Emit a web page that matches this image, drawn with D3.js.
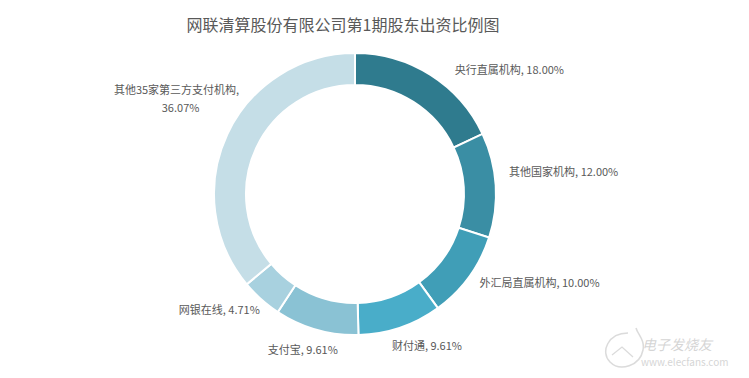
<!DOCTYPE html>
<html>
<head>
<meta charset="utf-8">
<script src="https://cdn.jsdelivr.net/npm/d3@7"></script>
<style>
  body { margin: 0; background: #fff; }
  text { font-family: "Noto Sans CJK SC", "Noto Sans", sans-serif; }
</style>
</head>
<body>
<div id="chart"></div>
<script>
// shareholders and their share of the capital (%)
var names = ["央行直属机构", "其他国家机构", "外汇局直属机构", "财付通", "支付宝", "网银在线", "其他35家第三方支付机构"];
var shares = [18.00, 12.00, 10.00, 9.61, 9.61, 4.71, 36.07];
var colors = ["#2f7b8e", "#3a8ea4", "#409eb7", "#49adc9", "#8ac2d4", "#a8d1df", "#c5dee7"];

var width = 749, height = 378;
var cx = 355, cy = 194, outerR = 141, innerR = 109;

// label nudges from the slice centroid (px), labels were hand placed
var labelNudge = [[66, 15], [44, -11], [51, -8], [19, -4], [-7, -3], [-26, -7], [-27, -25]];

var svg = d3.select("#chart").append("svg")
    .attr("width", width)
    .attr("height", height);

svg.append("text")
    .attr("x", 343)
    .attr("y", 31)
    .attr("text-anchor", "middle")
    .attr("font-size", "16px")
    .attr("fill", "#595959")
    .text("网联清算股份有限公司第1期股东出资比例图");

var data = names.map(function(n, i) { return {name: n, value: shares[i], color: colors[i], i: i}; });

var pie = d3.pie().sort(null).value(function(d) { return d.value; });
var arc = d3.arc().innerRadius(innerR).outerRadius(outerR);
var labelArc = d3.arc().innerRadius(165).outerRadius(165);

var g = svg.append("g").attr("transform", "translate(" + cx + "," + cy + ")");

var arcs = pie(data);

g.selectAll("path.slice")
    .data(arcs)
    .enter().append("path")
    .attr("class", "slice")
    .attr("d", arc)
    .attr("fill", function(d) { return d.data.color; })
    .attr("stroke", "#fff")
    .attr("stroke-width", 2);

var labels = g.selectAll("text.lbl")
    .data(arcs)
    .enter().append("text")
    .attr("class", "lbl")
    .attr("font-size", "11px")
    .attr("fill", "#595959")
    .attr("text-anchor", "middle")
    .attr("transform", function(d) {
      var c = labelArc.centroid(d), n = labelNudge[d.data.i];
      return "translate(" + (c[0] + n[0]) + "," + (c[1] + n[1]) + ")";
    });

labels.each(function(d) {
  var t = d3.select(this);
  var pct = d.data.value.toFixed(2) + "%";
  if (d.data.i === 6) {
    t.append("tspan").attr("x", -2).attr("dy", -5).text(d.data.name + ",");
    t.append("tspan").attr("x", 2).attr("dy", 18).text(pct);
  } else {
    t.append("tspan").attr("x", 0).attr("dy", "0.35em").text(d.data.name + ", " + pct);
  }
});

// watermark
var wm = svg.append("g").attr("opacity", 0.35);
wm.append("path")
    .attr("d", "M628,333 C608,333 600,352 610,362 C620,372 640,366 643,350 C645,340 638,335 636,328")
    .attr("fill", "none").attr("stroke", "#999").attr("stroke-width", 1.5);
wm.append("path")
    .attr("d", "M612,355 L622,347 L633,357")
    .attr("fill", "none").attr("stroke", "#999").attr("stroke-width", 1.2);
wm.append("text").attr("x", 642).attr("y", 350).attr("font-size", "14px").attr("fill", "#888")
    .attr("font-style", "italic").text("电子发烧友");
wm.append("text").attr("x", 641).attr("y", 366).attr("font-size", "10px").attr("fill", "#888")
    .attr("font-family", "DejaVu Sans").text("www.elecfans.com");
</script>
</body>
</html>
